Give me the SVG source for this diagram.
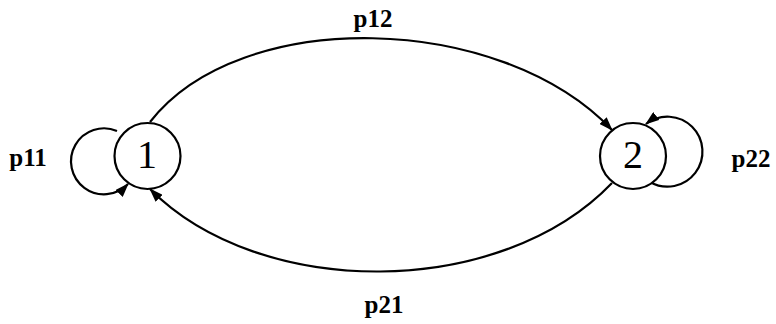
<svg xmlns="http://www.w3.org/2000/svg" width="776" height="324" viewBox="0 0 776 324">
<defs>
<marker id="ah" markerWidth="14" markerHeight="10" refX="13" refY="5" orient="auto" markerUnits="userSpaceOnUse">
<path d="M0,0 L14,5 L0,10 z" fill="#000"/>
</marker>
<style>
.node{fill:#fff;stroke:#000;stroke-width:2.2}
.edge{fill:none;stroke:#000;stroke-width:2.2}
.nl{font-family:"Liberation Serif","Times New Roman",serif;font-size:40px;text-anchor:middle}
.el{font-family:"Liberation Serif","Times New Roman",serif;font-size:25px;font-weight:bold;text-anchor:middle}
</style>
</defs>
<rect width="776" height="324" fill="#fff"/>
<g id="connectors">
<path class="edge" d="M117,131 A33,33 0 1 0 128,184" marker-end="url(#ah)"/>
<path class="edge" d="M650,182 A35,35 0 1 0 646,124" marker-end="url(#ah)"/>
<path class="edge" d="M150,122 C240,6 500,12 612,130" marker-end="url(#ah)"/>
<path class="edge" d="M612,183 C500,300 260,300 150,189" marker-end="url(#ah)"/>
</g>
<g id="n1"><circle class="node" cx="147.5" cy="156" r="33"/><text class="nl" x="147" y="168">1</text></g>
<g id="n2"><circle class="node" cx="633" cy="156" r="33"/><text class="nl" x="633" y="168">2</text></g>
<g id="labels">
<text class="el" x="28" y="166">p11</text>
<text class="el" x="373" y="27">p12</text>
<text class="el" x="751" y="167">p22</text>
<text class="el" x="384" y="313">p21</text>
</g>
</svg>
